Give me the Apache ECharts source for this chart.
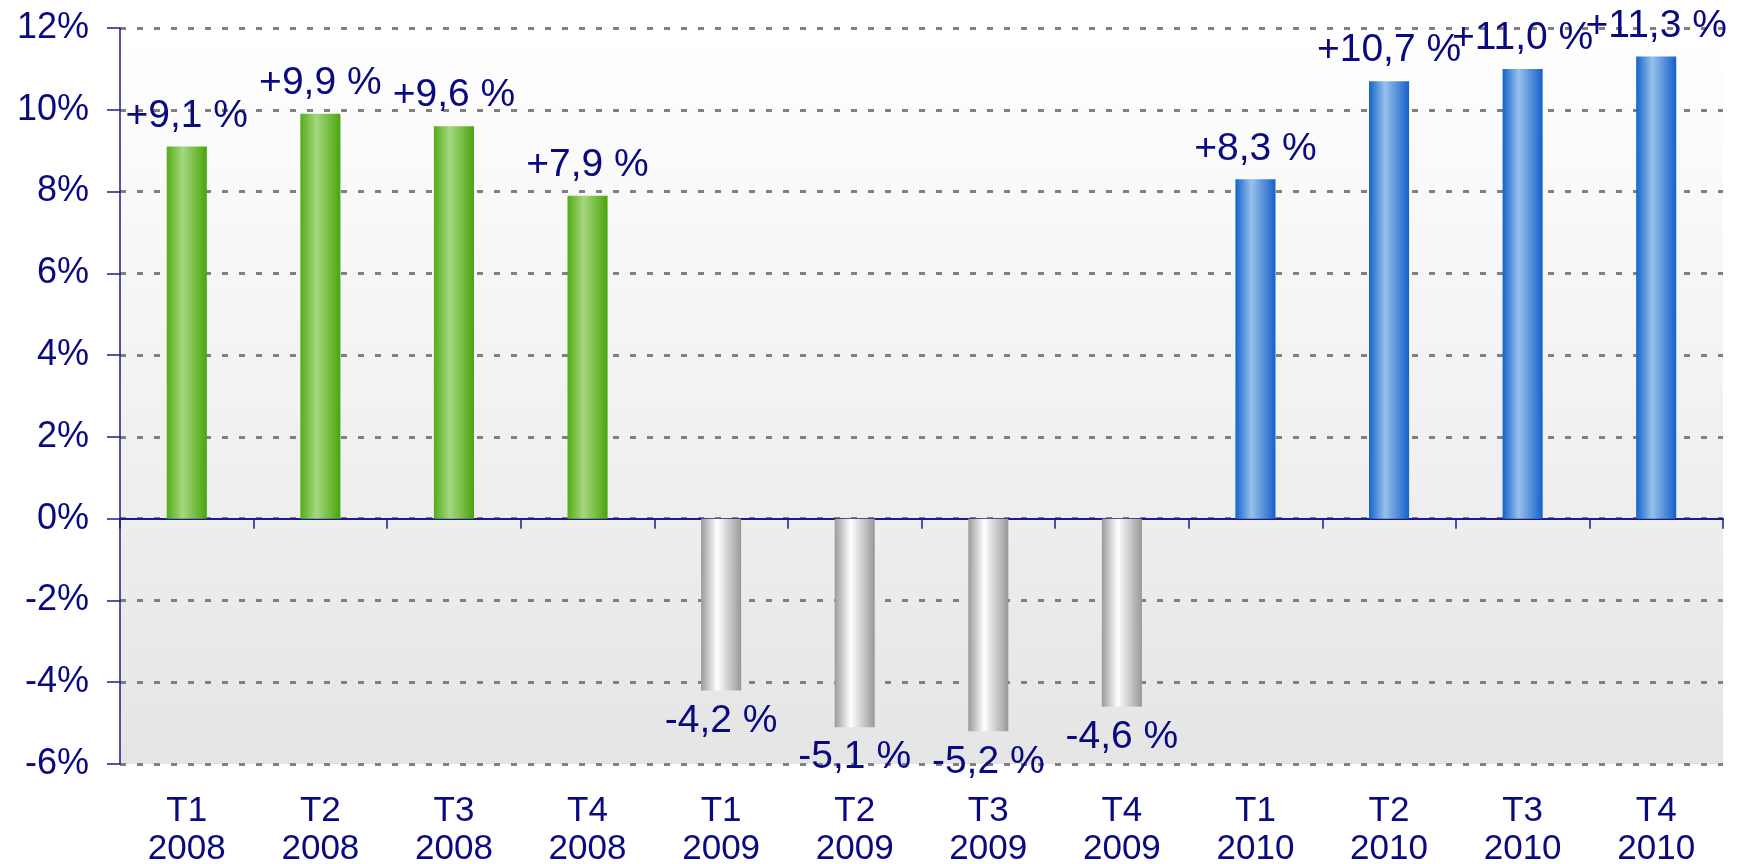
<!DOCTYPE html>
<html>
<head>
<meta charset="utf-8">
<title>Croissance trimestrielle</title>
<script src="https://cdn.jsdelivr.net/npm/echarts@6/dist/echarts.min.js"></script>
<style>
html, body { margin: 0; padding: 0; background: #fff; }
#chart { width: 1747px; height: 864px; }
</style>
</head>
<body>
<div id="chart"></div>
<script>
// data
var quarters = ["T1", "T2", "T3", "T4", "T1", "T2", "T3", "T4", "T1", "T2", "T3", "T4"];
var years = ["2008", "2008", "2008", "2008", "2009", "2009", "2009", "2009", "2010", "2010", "2010", "2010"];
var growth = [9.1, 9.9, 9.6, 7.9, -4.2, -5.1, -5.2, -4.6, 8.3, 10.7, 11.0, 11.3];
var yMin = -6, yMax = 12, yStep = 2;

var navy = "#0a0a80";
var font = "'Liberation Sans', Arial, sans-serif";

function barGradient(left, mid, right) {
  return new echarts.graphic.LinearGradient(0, 0, 1, 0, [
    { offset: 0, color: left },
    { offset: 0.4, color: mid },
    { offset: 1, color: right }
  ]);
}
var yearStyle = {
  "2008": barGradient("#52ad18", "#a5d87e", "#4aa40c"),
  "2009": barGradient("#9a9a9a", "#ffffff", "#989898"),
  "2010": barGradient("#1463cc", "#97c1eb", "#1660c8")
};

function fmt(v) {
  return (v > 0 ? "+" : "") + v.toFixed(1).replace(".", ",") + " %";
}

var categories = [];
var barData = [];
for (var i = 0; i < growth.length; i++) {
  categories.push(quarters[i] + "\n" + years[i]);
  barData.push({
    value: growth[i],
    itemStyle: { color: yearStyle[years[i]] },
    label: { position: growth[i] >= 0 ? "top" : "bottom" }
  });
}

var chart = echarts.init(document.getElementById("chart"));
var option = {
  animation: false,
  grid: {
    left: 120, right: 24, top: 28, bottom: 100,
    outerBoundsMode: "none",
    show: true,
    borderWidth: 0,
    backgroundColor: new echarts.graphic.LinearGradient(0, 0, 0, 1, [
      { offset: 0, color: "#ffffff" },
      { offset: 1, color: "#e5e5e5" }
    ])
  },
  xAxis: [
    {
      type: "category",
      data: categories,
      position: "bottom",
      axisLine: { onZero: true, lineStyle: { color: "#1c1c88", width: 2 } },
      axisTick: { show: true, length: 10, lineStyle: { color: "#1c1c88", width: 1.5 } },
      axisLabel: { show: false },
      splitLine: { show: false }
    },
    {
      // labels only, at the bottom of the plot
      type: "category",
      data: categories,
      position: "bottom",
      axisLine: { show: false, onZero: false },
      axisTick: { show: false },
      axisLabel: {
        margin: 28,
        color: navy,
        fontFamily: font,
        fontSize: 35,
        lineHeight: 38
      }
    }
  ],
  yAxis: {
    type: "value",
    min: yMin,
    max: yMax,
    interval: yStep,
    axisLine: { show: true, lineStyle: { color: "#1c1c88", width: 1.5 } },
    axisTick: { show: true, length: 13, lineStyle: { color: "#1c1c88", width: 1.5 } },
    axisLabel: {
      margin: 31,
      color: navy,
      fontFamily: font,
      fontSize: 36,
      formatter: "{value}%"
    },
    splitLine: {
      show: true,
      lineStyle: { color: "#808080", width: 3, type: [6, 11] }
    }
  },
  series: [
    {
      type: "bar",
      xAxisIndex: 0,
      barWidth: "30%",
      data: barData,
      label: {
        show: true,
        distance: 11,
        color: navy,
        fontFamily: font,
        fontSize: 39,
        formatter: function (p) { return fmt(p.value); }
      }
    }
  ]
};
chart.setOption(option);
</script>
</body>
</html>
